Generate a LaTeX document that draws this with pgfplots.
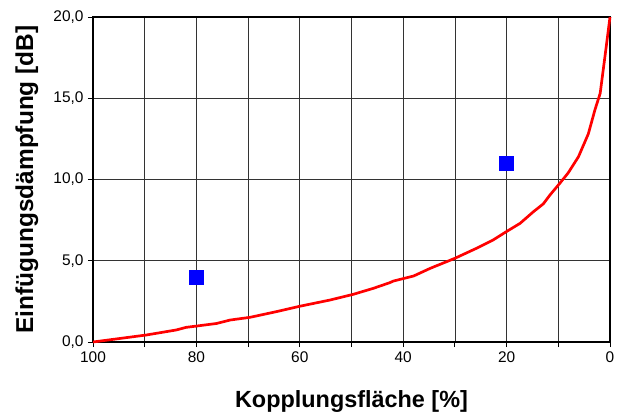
\documentclass[border=0pt]{standalone}
\usepackage{pgfplots}
\pgfplotsset{compat=1.18}
\usepackage{fontspec}
\setmainfont{Liberation Sans}
\begin{document}
\begin{tikzpicture}
\useasboundingbox (-93bp,-74bp) rectangle (528bp,342bp);
\begin{axis}[
  at={(0,0)}, anchor=south west,
  scale only axis, width=517bp, height=325bp,
  xmin=0, xmax=100, ymin=0, ymax=20,
  x dir=reverse,
  xtick={0,10,...,100},
  xticklabels={0,,20,,40,,60,,80,,100},
  ytick={0,5,10,15,20},
  yticklabel style={xshift=-1bp, /pgf/number format/.cd, fixed, fixed zerofill, precision=1, use comma},
  /pgf/number format/assume math mode=true,
  grid=major,
  major grid style={black!80, line width=0.6pt},
  axis line style={black, line width=1.2pt},
  tick style={black, line width=0.8pt},
  tick align=outside,
  major tick length=5bp,
  xtick pos=bottom, ytick pos=left,
  ticklabel style={font=\fontsize{15.5}{18}\selectfont},
  xticklabel style={yshift=-1bp},
  xlabel={Kopplungsfläche [\%]},
  ylabel={Einfügungsdämpfung [dB]},
  xlabel style={font=\bfseries\fontsize{23.5}{26}\selectfont, at={(axis description cs:0.5,-0.183)}, anchor=center},
  ylabel style={font=\bfseries\fontsize{24.5}{27}\selectfont, at={(axis description cs:-0.128,0.5)}, anchor=center, rotate=0},
  clip=false,
]
\addplot[red, line width=2.7pt, line join=round] coordinates {
(100,0) (89.7,0.43) (83.9,0.74) (82,0.9) (80,0.98) (76.1,1.14) (73.5,1.35)
(69.6,1.52) (64.5,1.87) (60,2.2) (54.2,2.58) (49.7,2.93) (45.8,3.3) (42.6,3.65)
(41.9,3.75) (38,4.06) (34.8,4.53) (30,5.15) (25.8,5.77) (22.6,6.28) (20,6.8)
(17.4,7.3) (14.8,8.02) (12.9,8.5) (11.6,9.05) (9.7,9.77) (8.1,10.4)
(6.1,11.4) (4.2,12.8) (2.9,14.3) (1.9,15.3) (0.8,18) (0,20)
};
\addplot[only marks, mark=square*, mark size=7bp, mark options={fill=blue, draw=blue}] coordinates {
(80,4.0) (20,11.0)
};
\end{axis}
\end{tikzpicture}
\end{document}
